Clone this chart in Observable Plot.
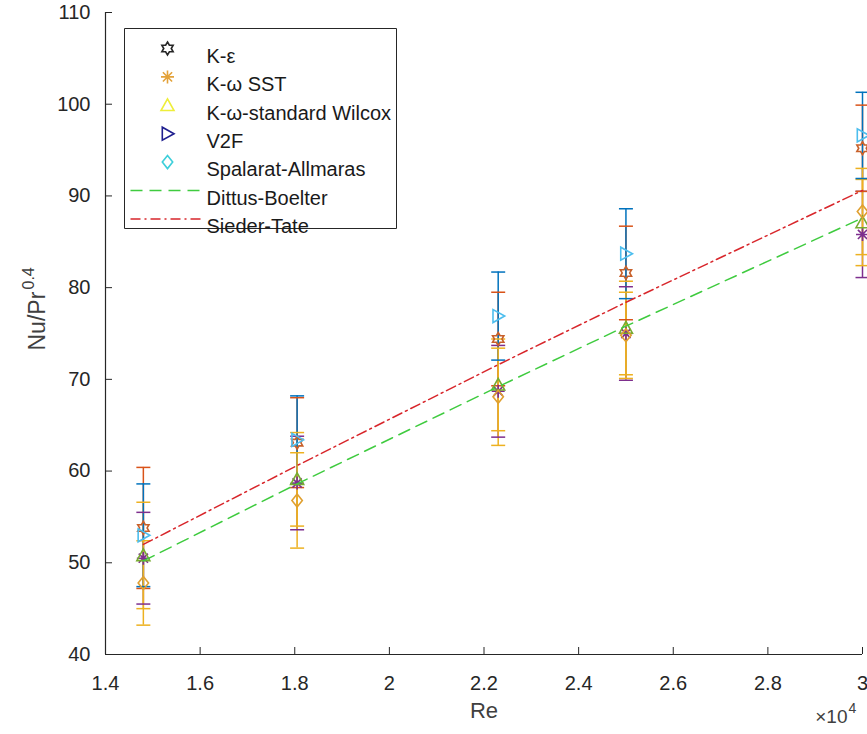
<!DOCTYPE html>
<html>
<head>
<meta charset="utf-8">
<script src="https://cdn.jsdelivr.net/npm/d3@7"></script>
<script src="https://cdn.jsdelivr.net/npm/@observablehq/plot@0.6"></script>
<style>
  body { margin: 0; background: #fff; }
  #chart svg { font-family: "Liberation Sans", Arial, Helvetica, sans-serif; }
</style>
</head>
<body>
<div id="chart"></div>
<script>
// Reynolds numbers of the simulated cases
const re = [14800, 18050, 22300, 25000, 30000];

// Nu/Pr^0.4 predicted by each turbulence model, with error half-widths
const kEpsilon        = [53.8, 63.1, 74.4, 81.6, 95.2];
const kEpsilonErr     = [6.6, 4.9, 5.1, 5.1, 4.7];
const kOmegaSST       = [50.5, 58.7, 68.7, 75.0, 85.8];
const kOmegaSSTErr    = [5.0, 5.1, 5.0, 5.1, 4.7];
const kOmegaWilcox    = [50.8, 59.1, 69.4, 75.6, 87.1];
const kOmegaWilcoxErr = [5.8, 5.1, 5.0, 5.1, 4.7];
const v2f             = [53.0, 63.4, 76.9, 83.7, 96.6];
const v2fErr          = [5.6, 4.8, 4.8, 4.9, 4.7];
const spalart         = [47.8, 56.8, 68.1, 74.8, 88.3];
const spalartErr      = [4.6, 5.2, 5.3, 4.7, 4.7];

// Empirical correlations evaluated at the same Reynolds numbers
const dittusBoelter = [50.2, 58.6, 69.2, 75.8, 87.6];
const siederTate    = [52.0, 60.6, 71.6, 78.4, 90.6];

// Axis ticks
const xTicks = [14000, 16000, 18000, 20000, 22000, 24000, 26000, 28000, 30000];
const yTicks = [40, 50, 60, 70, 80, 90, 100, 110];

// ---- marker shapes (MATLAB-like) ----
const radius = size => Math.sqrt(size / Math.PI);
const hexagram = {draw(ctx, size) {
  const r = radius(size);
  for (let i = 0; i < 12; ++i) {
    const a = Math.PI / 6 * i - Math.PI / 2, rr = i % 2 ? r * 0.577 : r;
    const x = rr * Math.cos(a), y = rr * Math.sin(a);
    i ? ctx.lineTo(x, y) : ctx.moveTo(x, y);
  }
  ctx.closePath();
}};
const asterisk = {draw(ctx, size) {
  const r = radius(size), d = r * Math.SQRT1_2;
  ctx.moveTo(-r, 0); ctx.lineTo(r, 0);
  ctx.moveTo(0, -r); ctx.lineTo(0, r);
  ctx.moveTo(-d, -d); ctx.lineTo(d, d);
  ctx.moveTo(-d, d); ctx.lineTo(d, -d);
}};
const triangleUp = {draw(ctx, size) {
  const r = radius(size);
  ctx.moveTo(0, -r); ctx.lineTo(r, r * 0.8); ctx.lineTo(-r, r * 0.8); ctx.closePath();
}};
const triangleRight = {draw(ctx, size) {
  const r = radius(size);
  ctx.moveTo(r, 0); ctx.lineTo(-r * 0.8, r); ctx.lineTo(-r * 0.8, -r); ctx.closePath();
}};
const rhombus = {draw(ctx, size) {
  const r = radius(size);
  ctx.moveTo(0, -r); ctx.lineTo(r * 0.8, 0); ctx.lineTo(0, r); ctx.lineTo(-r * 0.8, 0); ctx.closePath();
}};
const hbar = {draw(ctx, size) {
  const r = radius(size);
  ctx.moveTo(-r, 0); ctx.lineTo(r, 0);
}};
const box = (w, h) => ({draw(ctx) { ctx.rect(0, 0, w, h); }});

// ---- series table ----
const models = [
  {name: "K-ε", values: kEpsilon, err: kEpsilonErr, symbol: hexagram,
   bar: "#D95319", mark: "#C8602A", key: "#262626"},
  {name: "K-ω SST", values: kOmegaSST, err: kOmegaSSTErr, symbol: asterisk,
   bar: "#7E2F8E", mark: "#7E2F8E", key: "#E3A23A"},
  {name: "K-ω-standard Wilcox", values: kOmegaWilcox, err: kOmegaWilcoxErr, symbol: triangleUp,
   bar: "#EDB120", mark: "#77AC30", key: "#EEEE3A"},
  {name: "V2F", values: v2f, err: v2fErr, symbol: triangleRight,
   bar: "#0072BD", mark: "#4DBEEE", key: "#1F1F8F"},
  {name: "Spalarat-Allmaras", values: spalart, err: spalartErr, symbol: rhombus,
   bar: "#EDB120", mark: "#E0A030", key: "#3DCFDA"}
];
const points = models.flatMap((m, s) => re.map((r, i) => ({
  re: r, y: m.values[i], lo: m.values[i] - m.err[i], hi: m.values[i] + m.err[i], s
})));
const correlations = [
  {name: "Dittus-Boelter", values: dittusBoelter, stroke: "#3FCB3F", dash: "12,7"},
  {name: "Sieder-Tate", values: siederTate, stroke: "#D8262B", dash: "10,4,2,4"}
];

const tickFont = 20;
const legendFont = 20;
const axisColor = "#262626";
const textColor = "#404040";

// ---- legend (drawn inside the axes, upper left) ----
const legend = {left: 19, top: 16, w: 272, h: 200, row: 28.4, first: 20, key: 43, text: 82, line: 35};
const legendMarks = [
  Plot.dot([0], {frameAnchor: "top-left", dx: legend.left, dy: legend.top, r: 1,
    symbol: box(legend.w, legend.h), fill: "white", stroke: axisColor, strokeWidth: 1})
];
models.forEach((m, i) => {
  const dy = legend.top + legend.first + i * legend.row;
  legendMarks.push(
    Plot.dot([0], {frameAnchor: "top-left", dx: legend.left + legend.key, dy, r: 6.5,
      symbol: m.symbol, stroke: m.key, strokeWidth: 1.6, fill: "none"}),
    Plot.text([m.name], {frameAnchor: "top-left", dx: legend.left + legend.text, dy,
      text: d => d, textAnchor: "start", fontSize: legendFont, fill: "#1a1a1a"})
  );
});
correlations.forEach((c, j) => {
  const dy = legend.top + legend.first + (models.length + j) * legend.row;
  legendMarks.push(
    Plot.dot([0], {frameAnchor: "top-left", dx: legend.left + legend.key - 2, dy, r: legend.line,
      symbol: hbar, stroke: c.stroke, strokeWidth: 1.5, strokeDasharray: c.dash}),
    Plot.text([c.name], {frameAnchor: "top-left", dx: legend.left + legend.text, dy,
      text: d => d, textAnchor: "start", fontSize: legendFont, fill: "#1a1a1a"})
  );
});

const chart = Plot.plot({
  width: 867,
  height: 734,
  marginLeft: 105,
  marginRight: 5,
  marginTop: 12,
  marginBottom: 80,
  style: {fontFamily: "'Liberation Sans', Arial, sans-serif", background: "white", overflow: "visible"},
  x: {domain: [14000, 30000]},
  y: {domain: [40, 110]},
  marks: [
    // axis spines
    Plot.ruleX([14000], {stroke: axisColor, strokeWidth: 1.2}),
    Plot.ruleY([40], {stroke: axisColor, strokeWidth: 1.2}),
    // inward ticks and labels
    Plot.axisY({ticks: yTicks, tickSize: 7, dx: 7, tickPadding: 15, fontSize: tickFont,
      color: axisColor, tickFormat: d => d, label: null}),
    Plot.axisX({ticks: xTicks, tickSize: 7, dy: -7, tickPadding: 21, fontSize: tickFont,
      color: axisColor, tickFormat: d => d3.format("~g")(d / 1e4), label: null}),
    // error bars
    Plot.ruleX(points, {x: "re", y1: "lo", y2: "hi", stroke: d => models[d.s].bar, strokeWidth: 1.5}),
    Plot.dot(points, {x: "re", y: "hi", r: 7, symbol: hbar, stroke: d => models[d.s].bar, strokeWidth: 1.5}),
    Plot.dot(points, {x: "re", y: "lo", r: 7, symbol: hbar, stroke: d => models[d.s].bar, strokeWidth: 1.5}),
    // model markers
    ...models.map((m, s) => Plot.dot(points.filter(p => p.s === s), {
      x: "re", y: "y", r: 6.5, symbol: m.symbol, stroke: m.mark, strokeWidth: 1.6, fill: "none"
    })),
    // correlations
    ...correlations.map(c => Plot.line(re, {
      x: d => d, y: (d, i) => c.values[i], stroke: c.stroke, strokeWidth: 1.5,
      strokeDasharray: c.dash
    })),
    // axis titles
    Plot.text(["Re"], {frameAnchor: "bottom", dy: 63, text: d => d, fontSize: 22, fill: textColor}),
    Plot.text(["×10"], {frameAnchor: "bottom-right", dx: -15, dy: 68, text: d => d,
      textAnchor: "end", fontSize: 19, fill: textColor}),
    Plot.text(["4"], {frameAnchor: "bottom-right", dx: -14, dy: 58, text: d => d,
      textAnchor: "start", fontSize: 14, fill: textColor}),
    Plot.text(["Nu/Pr"], {frameAnchor: "left", dx: -68, dy: 17, rotate: -90, text: d => d,
      textAnchor: "start", fontSize: 23, fill: textColor}),
    Plot.text(["0.4"], {frameAnchor: "left", dx: -77, dy: -44, rotate: -90, text: d => d,
      textAnchor: "start", fontSize: 16, fill: textColor}),
    ...legendMarks
  ]
});
document.getElementById("chart").append(chart);
</script>
</body>
</html>
